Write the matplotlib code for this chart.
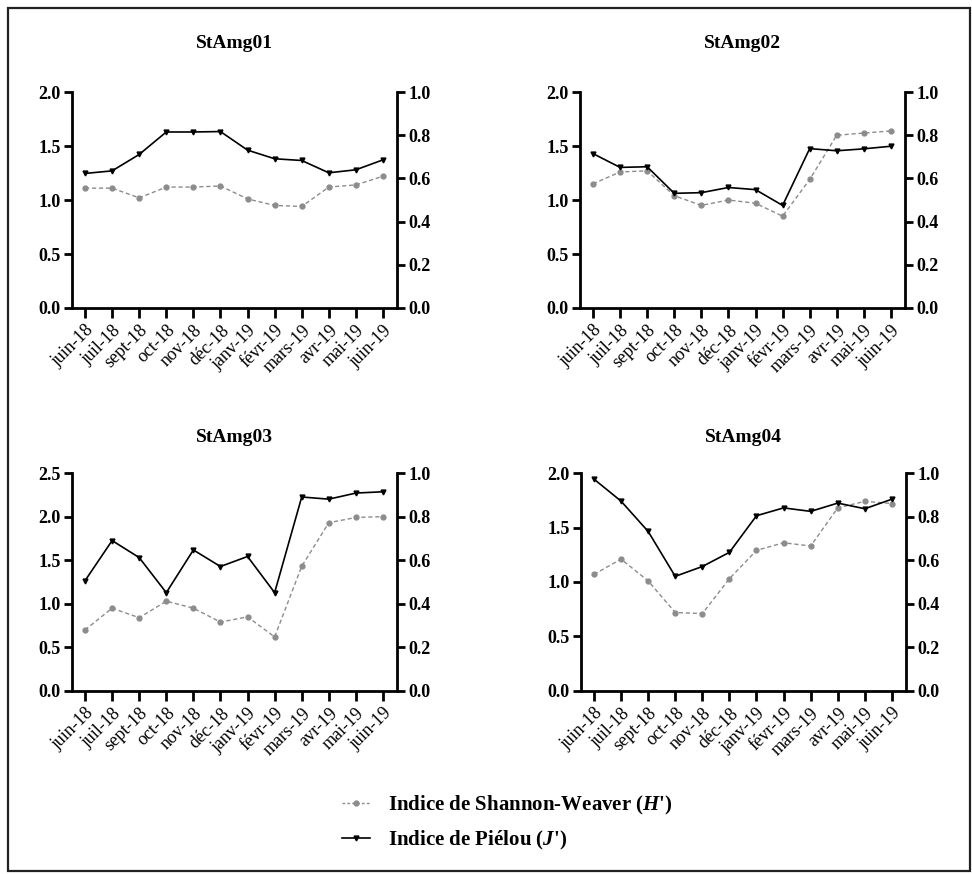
import numpy as np
import matplotlib
matplotlib.use('Agg')
import matplotlib.pyplot as plt
from matplotlib.lines import Line2D
from matplotlib.patches import Rectangle

plt.rcParams['font.family'] = ['Liberation Serif', 'DejaVu Serif']
plt.rcParams['mathtext.fontset'] = 'custom'
plt.rcParams['mathtext.it'] = 'Liberation Serif:bold:italic'
plt.rcParams['mathtext.rm'] = 'Liberation Serif:bold'

months = ['juin-18', 'juil-18', 'sept-18', 'oct-18', 'nov-18', 'déc-18',
          'janv-19', 'févr-19', 'mars-19', 'avr-19', 'mai-19', 'juin-19']
stations = ['StAmg01', 'StAmg02', 'StAmg03', 'StAmg04']

# Shannon-Weaver H' (left axis)
shannon_01 = [1.11, 1.11, 1.02, 1.12, 1.12, 1.13, 1.01, 0.95, 0.94, 1.12, 1.14, 1.22]
shannon_02 = [1.15, 1.26, 1.27, 1.04, 0.95, 1.00, 0.97, 0.85, 1.19, 1.60, 1.62, 1.64]
shannon_03 = [0.70, 0.95, 0.84, 1.03, 0.95, 0.79, 0.85, 0.62, 1.43, 1.93, 1.99, 2.00]
shannon_04 = [1.07, 1.21, 1.01, 0.72, 0.71, 1.03, 1.29, 1.36, 1.33, 1.68, 1.74, 1.72]

# Piélou J' (right axis)
pielou_01 = [0.623, 0.635, 0.711, 0.815, 0.815, 0.817, 0.731, 0.691, 0.683, 0.626, 0.640, 0.686]
pielou_02 = [0.715, 0.651, 0.654, 0.531, 0.534, 0.558, 0.548, 0.475, 0.738, 0.728, 0.737, 0.749]
pielou_03 = [0.506, 0.690, 0.612, 0.451, 0.647, 0.571, 0.617, 0.451, 0.890, 0.880, 0.908, 0.914]
pielou_04 = [0.972, 0.871, 0.732, 0.526, 0.571, 0.636, 0.804, 0.840, 0.824, 0.862, 0.836, 0.880]

shannon = [shannon_01, shannon_02, shannon_03, shannon_04]
pielou = [pielou_01, pielou_02, pielou_03, pielou_04]
left_max = [2.0, 2.0, 2.5, 2.0]

gray = '#8c8c8c'
fig = plt.figure(figsize=(9.72, 8.74), dpi=100)

# frame around the whole figure
fig.patches.append(Rectangle((0.0085, 0.004), 0.989, 0.987, transform=fig.transFigure,
                             fill=False, edgecolor='#222222', linewidth=1.6))

# axes boxes (left, bottom, width, height) and title heights
boxes = [[0.0741, 0.6476, 0.3344, 0.2471],
         [0.5967, 0.6476, 0.3344, 0.2471],
         [0.0741, 0.2094, 0.3344, 0.2494],
         [0.5977, 0.2094, 0.3344, 0.2494]]
title_y = [0.950, 0.950, 0.499, 0.499]

x = np.arange(len(months))
for i in range(4):
    ax = fig.add_axes(boxes[i])
    ax2 = ax.twinx()
    ax.plot(x, shannon[i], color=gray, linestyle='--', dashes=(3, 2), linewidth=1.0,
            marker='o', markersize=3.5, zorder=3)
    ax2.plot(x, pielou[i], color='black', linewidth=1.2, marker='v', markersize=3.5, zorder=3)

    ax.set_xlim(-0.48, 11.52)
    ax.set_ylim(0, left_max[i])
    ax.set_yticks(np.arange(0, left_max[i] + 0.01, 0.5))
    ax.yaxis.set_major_formatter(plt.FormatStrFormatter('%.1f'))
    ax2.set_ylim(0, 1.0)
    ax2.set_yticks(np.arange(0, 1.01, 0.2))
    ax2.yaxis.set_major_formatter(plt.FormatStrFormatter('%.1f'))

    ax.set_xticks(x)
    ax.set_xticklabels(months, rotation=45, ha='right', rotation_mode='anchor',
                       fontsize=13)

    for a in (ax, ax2):
        a.spines['top'].set_visible(False)
        for s in a.spines.values():
            s.set_linewidth(2.0)
        a.tick_params(width=2.0, length=6, labelsize=13, direction='out', pad=2)
        for lab in a.get_yticklabels():
            lab.set_fontweight('bold')
    ax2.spines['left'].set_visible(False)
    ax2.spines['bottom'].set_visible(False)
    ax.spines['right'].set_visible(False)
    ax.tick_params(axis='x', length=7, pad=3)

    b = boxes[i]
    fig.text(b[0] + b[2] / 2, title_y[i], stations[i], ha='center', va='center',
             fontsize=14, fontweight='bold')

handles = [Line2D([], [], color=gray, linestyle='--', dashes=(2, 1.5), linewidth=1.0,
                  marker='o', markersize=3.5),
           Line2D([], [], color='black', linewidth=1.2, marker='v', markersize=3.5)]
labels = ["Indice de Shannon-Weaver ($H$')", "Indice de Piélou ($J$')"]
fig.legend(handles, labels, loc='upper left', bbox_to_anchor=(0.333, 0.1135),
           frameon=False, handlelength=1.3, handletextpad=0.9,
           labelspacing=0.58, prop={'size': 15, 'weight': 'bold'})

fig.savefig('out.png', dpi=100)
